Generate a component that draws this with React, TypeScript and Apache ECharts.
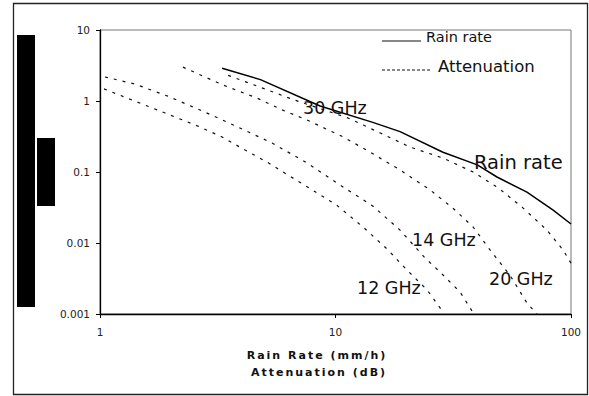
import React, { useEffect, useRef } from 'react';
import * as echarts from 'echarts';

// Rain rate (solid)
const rainRateX = [3.3, 4.8, 8.6, 14.4, 18.8, 28.6, 40, 48.5, 65, 84, 100];
const rainRateY = [2.9, 2.0, 0.85, 0.5, 0.37, 0.19, 0.126, 0.085, 0.052, 0.029, 0.0185];

// Attenuation curves (dashed)
const ghz30X = [3.5, 4.9, 6.7, 11.3, 15.5, 20.7, 28.6, 38.4, 49, 62, 79, 92.5, 100];
const ghz30Y = [2.3, 1.52, 1.03, 0.577, 0.354, 0.225, 0.157, 0.1, 0.06, 0.032, 0.0152, 0.008, 0.0052];

const ghz20X = [2.25, 2.79, 3.33, 4.64, 5.93, 7.57, 10.8, 14.0, 18.8, 25.2, 31.5, 38.4, 45.3, 55.1, 65, 71.7];
const ghz20Y = [3.0, 2.18, 1.68, 1.1, 0.75, 0.54, 0.311, 0.191, 0.107, 0.056, 0.031, 0.0168, 0.008, 0.0035, 0.00143, 0.001];

const ghz14X = [1.05, 1.41, 1.94, 2.66, 3.46, 5.38, 7.57, 10.45, 14.4, 18.8, 24, 27.8, 33.8, 38.7];
const ghz14Y = [2.18, 1.73, 1.17, 0.747, 0.506, 0.256, 0.134, 0.0656, 0.0332, 0.0152, 0.00615, 0.0039, 0.00204, 0.001];

const ghz12X = [1.04, 1.37, 1.89, 2.66, 3.3, 4.13, 5.12, 10.1, 13.1, 16.7, 20.1, 24.5, 28.6];
const ghz12Y = [1.48, 1.03, 0.678, 0.43, 0.311, 0.204, 0.138, 0.0343, 0.0168, 0.008, 0.00417, 0.00218, 0.00107];

const xTickLabels = ['1', '10', '100'];
const yTickLabels = ['0.001', '0.01', '0.1', '1', '10'];

const xTitle = 'Rain Rate (mm/h)';
const xTitle2 = 'Attenuation (dB)';
const legendNames = ['Rain rate', 'Attenuation'];
const curveLabels = ['30 GHz', 'Rain rate', '14 GHz', '20 GHz', '12 GHz'];

const FONT = '"DejaVu Sans", sans-serif';

const pairs = (xs: number[], ys: number[]) => xs.map((v, i) => [v, ys[i]]);

export default function App() {
  const ref = useRef<HTMLDivElement>(null);
  useEffect(() => {
    if (!ref.current) return;
    const chart = echarts.init(ref.current, undefined, { renderer: 'svg' });
    const dashed = { color: '#111', width: 1.2, type: [3, 6] as any };
    const txt = (text: string, x: number, y: number, size: number, extra: any = {}) => ({
      type: 'text',
      x,
      y,
      silent: true,
      style: {
        text,
        fill: '#111',
        font: `${size}px "DejaVu Sans", sans-serif`,
        textAlign: 'left',
        textVerticalAlign: 'middle',
        align: 'left',
        verticalAlign: 'middle',
        ...extra,
      },
      z: 100,
    });
    chart.setOption({
      animation: false,
      backgroundColor: '#fff',
      grid: {
        left: 100,
        top: 30,
        width: 471,
        height: 284,
        show: true,
        borderColor: '#777',
        borderWidth: 1,
      },
      xAxis: {
        type: 'log',
        logBase: 10,
        min: 1,
        max: 100,
        axisLine: { show: true, lineStyle: { color: '#000', width: 1.3 } },
        axisTick: { show: true, length: 4, lineStyle: { color: '#000' } },
        minorTick: { show: false },
        splitLine: { show: false },
        axisLabel: {
          margin: 12,
          fontSize: 10.5,
          fontFamily: FONT,
          color: '#222',
          formatter: (v: number) => xTickLabels[Math.round(Math.log10(v))] ?? '',
        },
      },
      yAxis: {
        type: 'log',
        logBase: 10,
        min: 0.001,
        max: 10,
        axisLine: { show: true, lineStyle: { color: '#000', width: 1.3 } },
        axisTick: { show: true, length: 4, lineStyle: { color: '#000' } },
        minorTick: { show: false },
        splitLine: { show: false },
        axisLabel: {
          margin: 10,
          fontSize: 10.5,
          fontFamily: FONT,
          color: '#222',
          formatter: (v: number) => yTickLabels[Math.round(Math.log10(v)) + 3] ?? '',
        },
      },
      series: [
        { name: 'Rain rate', type: 'line', data: pairs(rainRateX, rainRateY), showSymbol: false, symbol: 'none', lineStyle: { color: '#000', width: 1.5 } },
        { name: '30 GHz', type: 'line', data: pairs(ghz30X, ghz30Y), showSymbol: false, symbol: 'none', lineStyle: dashed },
        { name: '20 GHz', type: 'line', data: pairs(ghz20X, ghz20Y), showSymbol: false, symbol: 'none', lineStyle: dashed },
        { name: '14 GHz', type: 'line', data: pairs(ghz14X, ghz14Y), showSymbol: false, symbol: 'none', lineStyle: dashed },
        { name: '12 GHz', type: 'line', data: pairs(ghz12X, ghz12Y), showSymbol: false, symbol: 'none', lineStyle: dashed },
      ],
      graphic: [
        { type: 'rect', shape: { x: 13.5, y: 3.5, width: 574, height: 391 }, style: { fill: 'none', stroke: '#222', lineWidth: 1.3 }, silent: true },
        { type: 'rect', shape: { x: 17, y: 35, width: 18, height: 272 }, style: { fill: '#000' }, silent: true },
        { type: 'rect', shape: { x: 37, y: 138, width: 18, height: 68 }, style: { fill: '#000' }, silent: true },
        // legend
        { type: 'line', shape: { x1: 382, y1: 41, x2: 421, y2: 41 }, style: { stroke: '#111', lineWidth: 1 }, silent: true },
        txt(legendNames[0], 426, 37, 14.5),
        { type: 'line', shape: { x1: 382, y1: 70, x2: 431, y2: 70 }, style: { stroke: '#111', lineWidth: 1, lineDash: [3, 2] }, silent: true },
        txt(legendNames[1], 438, 66, 16.5),
        // curve labels
        txt(curveLabels[0], 303, 108, 17.5),
        txt(curveLabels[1], 474, 162, 19.5),
        txt(curveLabels[2], 412, 240, 17.5),
        txt(curveLabels[3], 489, 279, 17.5),
        txt(curveLabels[4], 357, 288, 17.5),
        // axis title
        {
          type: 'text',
          x: 317,
          y: 355,
          silent: true,
          style: { text: xTitle, fill: '#111', font: 'bold 11px "DejaVu Sans", sans-serif', textAlign: 'center', align: 'center', textVerticalAlign: 'middle', verticalAlign: 'middle' },
        },
        {
          type: 'text',
          x: 319,
          y: 372,
          silent: true,
          style: { text: xTitle2, fill: '#111', font: 'bold 11px "DejaVu Sans", sans-serif', textAlign: 'center', align: 'center', textVerticalAlign: 'middle', verticalAlign: 'middle' },
        },
      ],
    });
    return () => chart.dispose();
  }, []);
  return (
    <>
      <style>{`.rchart text[style*="bold"], .rchart text[font-weight="bold"] { letter-spacing: 2px; }`}</style>
      <div
        ref={ref}
        className="rchart"
        style={{ position: 'absolute', left: 0, top: 0, width: 589, height: 396 }}
      />
    </>
  );
}
